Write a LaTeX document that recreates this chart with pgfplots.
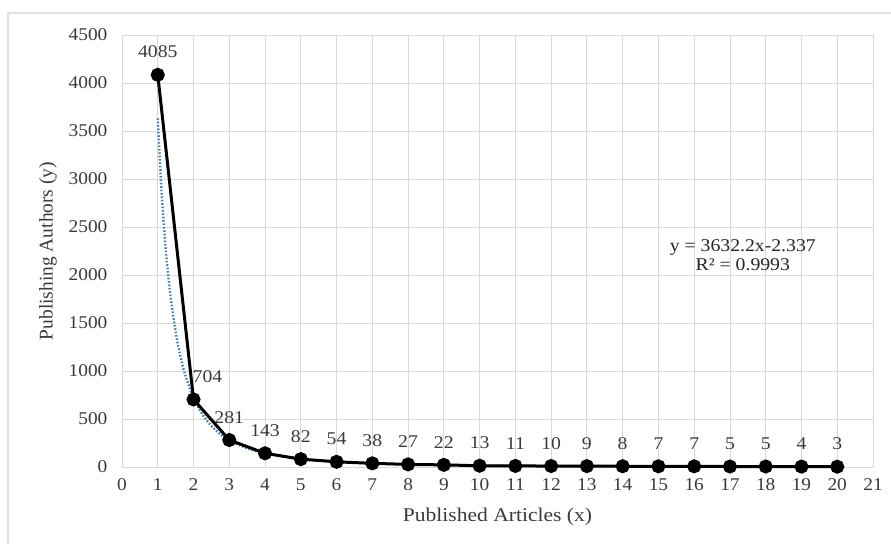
\documentclass[border=0pt]{standalone}
\usepackage{fontspec}
\setmainfont{Liberation Serif}
\usepackage{pgfplots}
\pgfplotsset{compat=1.18}
\definecolor{gridc}{HTML}{D9D9D9}
\definecolor{txt}{HTML}{3A3A3A}
\definecolor{trend}{HTML}{4E7FA8}
\begin{document}
\begin{tikzpicture}
\path[use as bounding box] (-122bp,-77bp) rectangle (769bp,467bp);
\draw[gridc!80, line width=1.2bp] (-114bp,-80bp) -- (-114bp,454bp) -- (775bp,454bp);
\begin{axis}[
  at={(0,0)}, anchor=south west,
  scale only axis, width=751bp, height=432bp,
  xmin=0, xmax=21, ymin=0, ymax=4500,
  xtick={0,1,...,21}, ytick={0,500,...,4500},
  grid=major,
  major grid style={gridc, line width=0.9bp},
  axis line style={gridc, line width=0.9bp},
  tick style={draw=none},
  ticklabel style={font=\fontsize{18}{21}\selectfont, text=txt, xscale=1.08},
  /pgf/number format/assume math mode=true,
  scaled y ticks=false,
  yticklabel style={/pgf/number format/1000 sep={}, xshift=-10bp},
  xticklabel style={yshift=-8bp},
  xlabel={Published Articles (x)},
  ylabel={Publishing Authors (y)},
  label style={font=\fontsize{19.5}{23}\selectfont, text=txt},
  xlabel style={at={(axis description cs:0.5,-0.1157)}, anchor=center, xscale=1.11},
  ylabel style={at={(axis description cs:-0.0985,0.5)}, anchor=center},
  clip=false,
]
\addplot[trend, line width=2.4bp, dash pattern=on 1.6bp off 1.8bp, smooth] coordinates {
(1,3632.2) (1.1,2907) (1.2,2372) (1.25,2156.5) (1.35,1801) (1.5,1408.2) (1.6,1211) (1.75,982.2)
(2,718.9) (2.25,545.9) (2.5,426.8) (2.75,341.6) (3,278.7) (3.5,194.4) (4,142.3) (5,84.5)
(6,55.2) (7,38.5) (8,28.2) (9,21.4) (10,16.7) (11,13.4) (12,10.9) (14,7.6) (15,6.5)
(16,5.6) (18,4.2) (20,3.3)};
\addplot[black, line width=3bp, mark=*, mark size=5.5bp,
  nodes near coords,
  nodes near coords style={/pgf/number format/1000 sep={}},
  every node near coord/.append style={font=\fontsize{18}{21}\selectfont, text=txt, yshift=12bp, xscale=1.1},
  coordinate style/.condition={x==2}{xshift=14bp}]
coordinates {
(1,4085) (2,704) (3,281) (4,143) (5,82) (6,54) (7,38) (8,27) (9,22) (10,13)
(11,11) (12,10) (13,9) (14,8) (15,7) (16,7) (17,5) (18,5) (19,4) (20,3)};
\node[font=\fontsize{18}{19}\selectfont, text=black!85, align=center, xscale=1.1] at (axis cs:17.36,2208) {y = 3632.2x-2.337\\R² = 0.9993};
\end{axis}
\end{tikzpicture}
\end{document}
